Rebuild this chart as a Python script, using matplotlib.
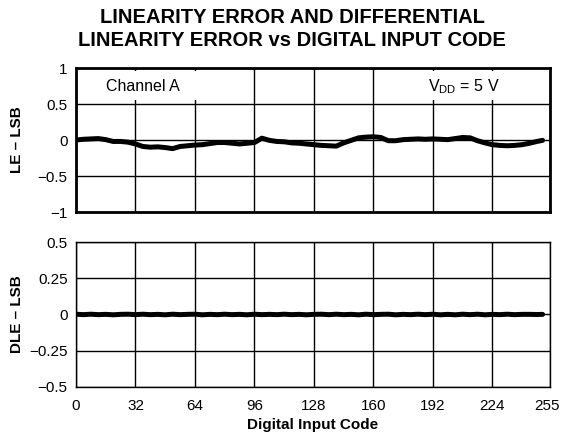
import matplotlib
matplotlib.use("Agg")
import matplotlib.pyplot as plt
from matplotlib.patches import Rectangle
from matplotlib.transforms import ScaledTranslation

plt.rcParams['font.family'] = ['Liberation Sans', 'DejaVu Sans']

# Linearity error (LSB) vs code, read every 4 codes (0..248) plus 251
le_codes = list(range(0, 252, 4)) + [251]
le_values = [0.00, 0.01, 0.015, 0.02, 0.005, -0.02, -0.02, -0.03,
             -0.055, -0.09, -0.10, -0.095, -0.105, -0.12, -0.09, -0.08,
             -0.07, -0.065, -0.05, -0.035, -0.035, -0.045, -0.055, -0.045,
             -0.035, 0.025, -0.005, -0.02, -0.025, -0.04, -0.045, -0.055,
             -0.065, -0.075, -0.08, -0.085, -0.04, -0.005, 0.03, 0.04,
             0.045, 0.035, -0.01, -0.01, 0.005, 0.01, 0.015, 0.01,
             0.015, 0.01, 0.005, 0.02, 0.035, 0.03, -0.01, -0.04,
             -0.065, -0.075, -0.08, -0.075, -0.065, -0.045, -0.02,
             -0.005]

# Differential linearity error (LSB) vs code
dle_codes = list(range(0, 252, 4)) + [251]
dle_values = [0.002, -0.001, 0.002, -0.001, 0.001, -0.002, 0.001, 0.002,
              -0.001, 0.002, -0.001, 0.001, -0.002, 0.002, -0.001, 0.001,
              0.002, -0.002, 0.001, -0.001, 0.002, -0.001, 0.001, -0.002,
              0.002, -0.001, 0.001, -0.001, 0.002, -0.001, 0.001, -0.002,
              0.001, 0.002, -0.001, 0.002, -0.001, 0.001, -0.002, 0.002,
              -0.001, 0.001, 0.002, -0.002, 0.001, -0.001, 0.002, -0.001,
              0.002, -0.002, 0.001, -0.002, 0.002, -0.001, 0.002, -0.002,
              0.001, -0.001, 0.002, -0.001, 0.001, 0.001, 0.0,
              0.001]

x_ticks = [0, 32, 64, 96, 128, 160, 192, 224, 255]
le_ticks = [-1, -0.5, 0, 0.5, 1]
le_labels = ['\u22121', '\u22120.5', '0', '0.5', '1']
dle_ticks = [-0.5, -0.25, 0, 0.25, 0.5]
dle_labels = ['\u22120.5', '\u22120.25', '0', '0.25', '0.5']

W, H = 561, 436
fig = plt.figure(figsize=(W / 100, H / 100), dpi=100)

def px_axes(left, top, right, bottom):
    return fig.add_axes([left / W, 1 - bottom / H, (right - left) / W, (bottom - top) / H])

ax1 = px_axes(76, 68, 550, 212)
ax2 = px_axes(76, 242, 550, 387)

for ax, ticks, labels, lw in [(ax1, le_ticks, le_labels, 2.0), (ax2, dle_ticks, dle_labels, 1.0)]:
    ax.set_xlim(0, 255)
    ax.set_ylim(ticks[0], ticks[-1])
    ax.set_xticks(x_ticks)
    ax.set_yticks(ticks)
    ax.set_yticklabels(labels, fontsize=11)
    ax.grid(True, color='black', linewidth=1.0)
    ax.set_axisbelow(True)
    ax.tick_params(axis='y', length=0, pad=6)
    ax.tick_params(axis='x', length=0, pad=9)
    for s in ax.spines.values():
        s.set_linewidth(lw)
        s.set_color('black')

ax1.tick_params(labelbottom=False)
ax2.set_xticklabels([str(t) for t in x_ticks], fontsize=11)
# nudge the last tick label slightly left so it stays inside the figure
last = ax2.get_xticklabels()[-1]
last.set_transform(last.get_transform() + ScaledTranslation(-3 / 100, 0, fig.dpi_scale_trans))

# white label boxes hiding the top-row grid
ax1.add_patch(Rectangle((0, 0.56), 75, 0.40, facecolor='white', edgecolor='none', zorder=1))
ax1.add_patch(Rectangle((180, 0.56), 75, 0.40, facecolor='white', edgecolor='none', zorder=1))

ax1.plot(le_codes, le_values, color='black', linewidth=3.6, zorder=3,
         solid_joinstyle='round', solid_capstyle='round')
ax2.plot(dle_codes, dle_values, color='black', linewidth=3.6, zorder=3,
         solid_joinstyle='round', solid_capstyle='round')

ax1.set_ylabel('LE \u2013 LSB', fontsize=11, fontweight='bold', labelpad=10)
ax2.set_ylabel('DLE \u2013 LSB', fontsize=11, fontweight='bold', labelpad=4)
ax2.set_xlabel('Digital Input Code', fontsize=11, fontweight='bold', labelpad=3)

ax1.text(16, 0.74, 'Channel A', fontsize=11.5, ha='left', va='center', zorder=4)
ax1.text(228, 0.74, '$\\mathregular{V_{DD}}$ = 5 V', fontsize=11.5, ha='right', va='center', zorder=4)

fig.text(292 / W, 1 - 17.5 / H, 'LINEARITY ERROR AND DIFFERENTIAL', fontsize=14.5,
         fontweight='bold', ha='center', va='center')
fig.text(292 / W, 1 - 40.5 / H, 'LINEARITY ERROR vs DIGITAL INPUT CODE', fontsize=14.5,
         fontweight='bold', ha='center', va='center')

fig.savefig('out.png', dpi=100)
